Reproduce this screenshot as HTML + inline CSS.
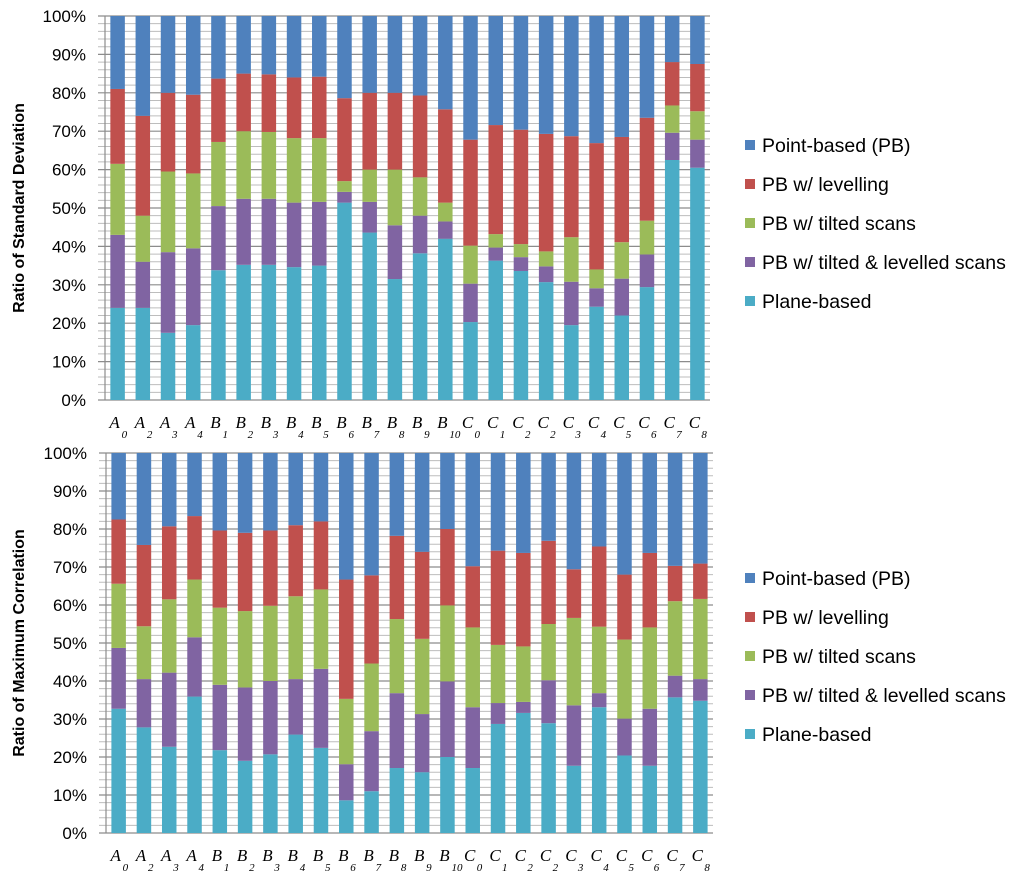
<!DOCTYPE html>
<html><head><meta charset="utf-8"><style>
html,body{margin:0;padding:0;background:#fff;}
svg{display:block;font-family:"Liberation Sans",sans-serif;}
</style></head><body>
<svg id="chart" width="1024" height="882" viewBox="0 0 1024 882" xmlns="http://www.w3.org/2000/svg"></svg>
<script>
const categories = [["A","0"],["A","2"],["A","3"],["A","4"],["B","1"],["B","2"],["B","3"],["B","4"],["B","5"],["B","6"],["B","7"],["B","8"],["B","9"],["B","10"],["C","0"],["C","1"],["C","2"],["C","2"],["C","3"],["C","4"],["C","5"],["C","6"],["C","7"],["C","8"]];
const seriesNames = ["Plane-based","PB w/ tilted & levelled scans","PB w/ tilted scans","PB w/ levelling","Point-based (PB)"];
const seriesColors = ["#4BACC6","#8064A2","#9BBB59","#C0504D","#4F81BD"];
const yTicks = ["0%","10%","20%","30%","40%","50%","60%","70%","80%","90%","100%"];
// Top chart (Standard deviation) series values, %
const sdPlane = [24,24,17.5,19.5,33.8,35.2,35.2,34.6,35,51.4,43.6,31.5,38.2,42,20.3,36.3,33.6,30.7,19.5,24.3,22,29.4,62.5,60.5];
const sdTiltLev = [19,12,21,20,16.7,17.2,17.2,16.8,16.6,2.8,8,14,9.8,4.5,10,3.4,3.6,4.1,11.3,4.8,9.6,8.5,7.1,7.3];
const sdTilt = [18.5,12,21,19.5,16.7,17.6,17.4,16.8,16.6,2.8,8.4,14.5,10,4.9,9.9,3.5,3.4,3.9,11.6,4.9,9.5,8.8,7.1,7.4];
const sdLev = [19.5,26,20.5,20.5,16.5,15,15,15.8,16,21.6,20,20,21.3,24.3,27.6,28.4,29.8,30.6,26.3,32.9,27.4,26.8,11.3,12.3];
const sdPB = [19,26,20,20.5,16.3,15,15.2,16,15.8,21.4,20,20,20.7,24.3,32.2,28.4,29.6,30.7,31.3,33.1,31.5,26.5,12,12.5];
// Bottom chart (Maximum correlation) series values, %
const mcPlane = [32.7,27.8,22.7,35.9,21.8,19,20.7,25.9,22.4,8.6,11,17.1,16,20,17.1,28.7,31.6,28.9,17.7,33.1,20.4,17.7,35.7,34.8];
const mcTiltLev = [16,12.7,19.5,15.6,17.2,19.3,19.3,14.6,20.8,9.5,15.8,19.7,15.3,19.9,16,5.5,2.9,11.3,15.9,3.7,9.7,15,5.7,5.7];
const mcTilt = [16.9,13.9,19.3,15.2,20.3,20.1,19.8,21.8,20.9,17.2,17.8,19.5,19.8,20,21,15.3,14.6,14.8,23,17.5,20.8,21.4,19.6,21.1];
const mcLev = [16.9,21.4,19.2,16.7,20.3,20.6,19.8,18.7,17.9,31.4,23.2,21.9,22.9,20.1,16.1,24.8,24.6,21.9,12.8,21.1,17.1,19.6,9.3,9.3];
const mcPB = [17.5,24.2,19.3,16.6,20.4,21,20.4,19,18,33.3,32.2,21.8,26,20,29.8,25.7,26.3,23.1,30.6,24.6,32,26.3,29.7,29.1];

const NS="http://www.w3.org/2000/svg";
const svg=document.getElementById('chart');
function mk(tag,attrs,parent){const e=document.createElementNS(NS,tag);for(const k in attrs)e.setAttribute(k,attrs[k]);(parent||svg).appendChild(e);return e;}

function drawChart(prefix,series,L,R,T,B,title,legendY){
  const g=mk('g',{});
  
  
  const yScale=v=>B-(v/100)*(B-T);
  const band=(R-L)/categories.length;
  const xCenter=i=>L+band*(i+0.5);
  for(let p=0;p<=100;p+=2){
    const y=yScale(p);
    const major=p%10===0;
    const ln=mk('line',{x1:L-7,x2:R,y1:y,y2:y,stroke:major?'#8c8c8c':'#bdbdbd','stroke-width':major?1.2:1},g);
    
    
  }
  for(let t=0;t<yTicks.length;t++){
    const tx=mk('text',{x:L-19,y:yScale(t*10)+6,'text-anchor':'end','font-size':17,fill:'#000'},g);
    tx.textContent=yTicks[t];
    
    
  }
  const ax=mk('line',{x1:L,x2:L,y1:T,y2:B,stroke:'#8c8c8c','stroke-width':1.2},g);
  
  
  const bw=14.5;
  categories.forEach((c,i)=>{
    let tot=0;series.forEach(s=>tot+=s[i]);
    let cum=0;
    series.forEach((s,k)=>{
      const v=s[i]/tot*100;
      const y1=yScale(cum+v),y0=yScale(cum);
      const r=mk('rect',{x:xCenter(i)-bw/2,y:y1,width:bw,height:y0-y1,fill:seriesColors[k]},g);
      
      
      cum+=v;
    });
    const lt=mk('text',{x:xCenter(i)-3,y:B+28,'text-anchor':'middle','font-size':17,'font-style':'italic','font-family':'"Liberation Serif",serif'},g);
    lt.textContent=c[0];
    
    
    const st=mk('text',{x:xCenter(i)+4,y:B+38,'text-anchor':'start','font-size':11,'font-style':'italic','font-family':'"Liberation Serif",serif'},g);
    st.textContent=c[1];
    
    
  });
  const cy=(T+B)/2;
  const tt=mk('text',{x:0,y:0,'text-anchor':'middle','font-size':16,'font-weight':'bold',transform:`translate(24,${cy}) rotate(-90)`},g);
  tt.textContent=title;
  
  
  const order=[4,3,2,1,0];
  order.forEach((k,j)=>{
    const y=legendY+j*39;
    const sq=mk('rect',{x:745,y:y-5,width:10,height:10,fill:seriesColors[k]},g);
    
    
    const t=mk('text',{x:762,y:y+7,'font-size':19.5,fill:'#000'},g);
    t.textContent=seriesNames[k];
    
    
  });
}
drawChart('std-dev',[sdPlane,sdTiltLev,sdTilt,sdLev,sdPB],105,710,16,400,'Ratio of Standard Deviation',145);
drawChart('max-corr',[mcPlane,mcTiltLev,mcTilt,mcLev,mcPB],106,713,453,833,'Ratio of Maximum Correlation',578);
</script>
</body></html>
